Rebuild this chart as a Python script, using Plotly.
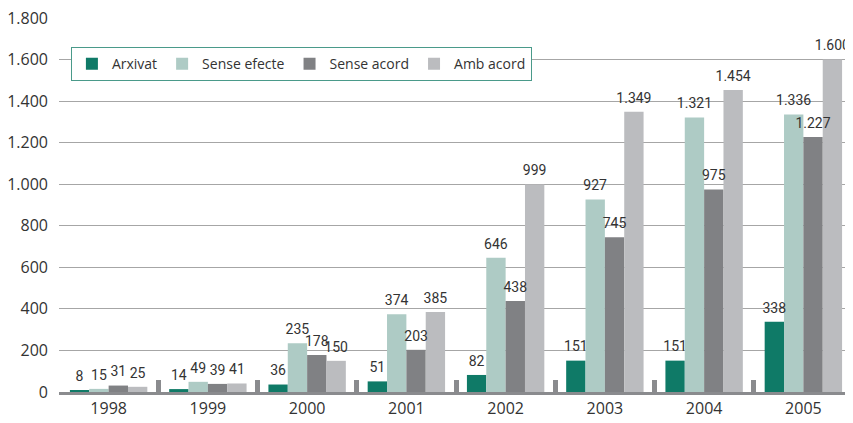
import plotly.graph_objects as go

years = ["1998", "1999", "2000", "2001", "2002", "2003", "2004", "2005"]
arxivat = [8, 14, 36, 51, 82, 151, 151, 338]
sense_efecte = [15, 49, 235, 374, 646, 927, 1321, 1336]
sense_acord = [31, 39, 178, 203, 438, 745, 975, 1227]
amb_acord = [25, 41, 150, 385, 999, 1349, 1454, 1600]

series = [
    ("Arxivat", arxivat, "#0f7a67"),
    ("Sense efecte", sense_efecte, "#aecbc5"),
    ("Sense acord", sense_acord, "#808184"),
    ("Amb acord", amb_acord, "#bbbcbf"),
]

label_font = "Roboto, sans-serif"
main_font = "Open Sans, Lato, sans-serif"

fig = go.Figure()
# visible bars
for i, (name, vals, color) in enumerate(series):
    fig.add_trace(go.Bar(
        x=years, y=vals, name=name, offsetgroup=str(i),
        marker=dict(color=color, line=dict(width=0)),
    ))
# transparent copies carrying the value labels, drawn on top of all bars
for i, (name, vals, color) in enumerate(series):
    fig.add_trace(go.Bar(
        x=years, y=vals, name=name, offsetgroup=str(i), showlegend=False,
        marker=dict(color="rgba(0,0,0,0)", line=dict(width=0)),
        hoverinfo="skip",
        text=vals,
        texttemplate="<span style='font-size:14px'>%{y:,d}</span><br> ",
        textposition="outside",
        textfont=dict(family=label_font, size=4, color="#333333"),
        cliponaxis=False, constraintext="none",
    ))

# page body has an 8px margin, so the figure is sized and offset to compensate
fig.update_layout(
    width=845, height=415,
    margin=dict(l=51, r=0, t=10, b=31),
    paper_bgcolor="white", plot_bgcolor="white",
    separators=",.",
    barmode="group", bargap=0.22, bargroupgap=0,
    font=dict(family=main_font, size=15, color="#333333"),
    legend=dict(
        orientation="h", x=0.015, y=0.922, xanchor="left", yanchor="top",
        bgcolor="white", bordercolor="#4a9a8a", borderwidth=1,
        font=dict(family=main_font, size=14, color="#333333"),
        traceorder="normal", itemwidth=30,
    ),
    xaxis=dict(
        type="category", tickson="boundaries", ticks="inside",
        ticklen=12, tickwidth=5, tickcolor="#8a8b8e",
        showline=True, linecolor="#8a8b8e", linewidth=3,
        showgrid=False, tickfont=dict(size=16, color="#333333"),
    ),
    yaxis=dict(
        range=[0, 1800], dtick=200, tickformat=",d",
        showgrid=True, gridcolor="#a6a6a6", gridwidth=1,
        zeroline=False, showline=False, ticks="",
        ticklabeloverflow="allow",
        ticklabelstandoff=10, tickfont=dict(size=16, color="#333333"),
    ),
)

fig.write_html("out.html")
